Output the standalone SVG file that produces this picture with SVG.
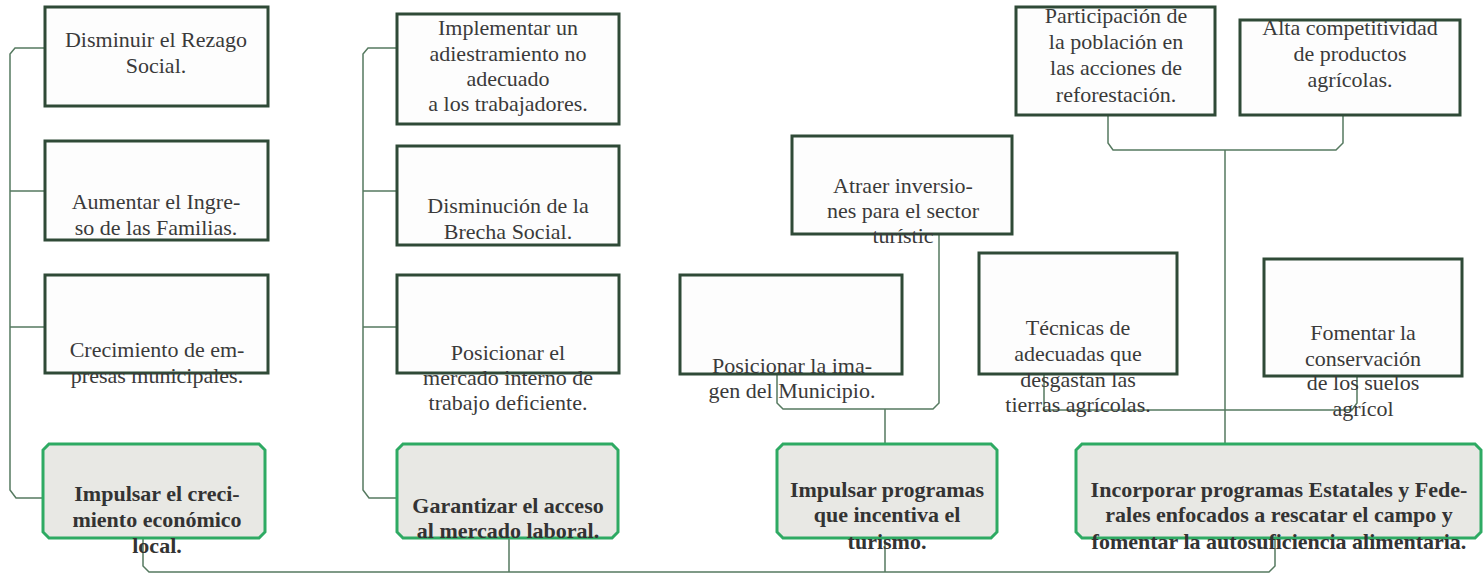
<svg xmlns="http://www.w3.org/2000/svg" width="1483" height="574" viewBox="0 0 1483 574" font-family="'Liberation Serif', 'DejaVu Serif', serif">
<style>
.box{fill:#fdfdfd;stroke:#2f4a37;stroke-width:3}
.gbox{fill:#e8e8e4;stroke:#2eaa63;stroke-width:3}
.c{fill:none;stroke:#567a60;stroke-width:1.5}
text{font-family:'Liberation Serif', 'DejaVu Serif', serif;font-size:22px;fill:#3a3a3a;text-anchor:middle}
.b{font-weight:bold;fill:#333}
</style>
<rect width="1483" height="574" fill="#ffffff"/>
<g id="connectors">
<path class="c" d="M45,48 H15 L10,54 V490 L16,498 H43"/>
<path class="c" d="M10,191 H45 M10,327 H45"/>
<path class="c" d="M397,48 H368 L363,54 V490 L369,498 H397"/>
<path class="c" d="M363,191 H397 M363,327 H397"/>
<path class="c" d="M939,234 V403 L933,409 H783 L777,403 V374 M885,409 V444"/>
<path class="c" d="M1108,115 V143 L1113,150 H1336 L1343,143 V115 M1225,150 V444"/>
<path class="c" d="M1044,374 V410 H1352 L1357,403 V376"/>
<path class="c" d="M143,538 V566 L149,572 H1269 L1275,566 V538 M509,538 V572 M885,538 V572"/>
</g>
<g id="n1"><rect class="box" x="45" y="7" width="223" height="99"/><text x="156" y="47">Disminuir el Rezago</text><text x="156" y="73">Social.</text></g>
<g id="n2"><rect class="box" x="45" y="141" width="223" height="99"/><text x="156" y="209">Aumentar el Ingre-</text><text x="156" y="235">so de las Familias.</text></g>
<g id="n3"><rect class="box" x="45" y="275" width="223" height="98"/><text x="157" y="357">Crecimiento de em-</text><text x="157" y="383">presas municipales.</text></g>
<g id="g1"><path class="gbox" d="M49,444 H259 L265,450 V532 L259,538 H49 L43,532 V450 Z"/><text class="b" x="157" y="501">Impulsar el creci-</text><text class="b" x="157" y="527">miento económico</text><text class="b" x="157" y="553">local.</text></g>
<g id="n4"><rect class="box" x="397" y="14" width="222" height="110"/><text x="508" y="35">Implementar un</text><text x="508" y="61">adiestramiento no</text><text x="508" y="86">adecuado</text><text x="508" y="111">a los trabajadores.</text></g>
<g id="n5"><rect class="box" x="397" y="146" width="222" height="99"/><text x="508" y="213">Disminución de la</text><text x="508" y="239">Brecha Social.</text></g>
<g id="n6"><rect class="box" x="397" y="275" width="222" height="98"/><text x="508" y="360">Posicionar el</text><text x="508" y="385">mercado interno de</text><text x="508" y="410">trabajo deficiente.</text></g>
<g id="g2"><path class="gbox" d="M403,444 H612 L618,450 V532 L612,538 H403 L397,532 V450 Z"/><text class="b" x="508" y="513">Garantizar el acceso</text><text class="b" x="508" y="538">al mercado laboral.</text></g>
<g id="n7"><rect class="box" x="792" y="136" width="220" height="98"/><text x="903" y="193">Atraer inversio-</text><text x="903" y="218">nes para el sector</text><text x="903" y="243">turístic</text></g>
<g id="n8"><rect class="box" x="680" y="275" width="222" height="99"/><text x="792" y="373">Posicionar la ima-</text><text x="792" y="398">gen del Municipio.</text></g>
<g id="g3"><path class="gbox" d="M783,444 H991 L997,450 V532 L991,538 H783 L777,532 V450 Z"/><text class="b" x="887" y="497">Impulsar programas</text><text class="b" x="887" y="522">que incentiva el</text><text class="b" x="887" y="549">turismo.</text></g>
<g id="n9"><rect class="box" x="1016" y="7" width="199" height="108"/><text x="1116" y="23">Participación de</text><text x="1116" y="49">la población en</text><text x="1116" y="75">las acciones de</text><text x="1116" y="102">reforestación.</text></g>
<g id="n10"><rect class="box" x="1240" y="20" width="220" height="95"/><text x="1350" y="35">Alta competitividad</text><text x="1350" y="61">de productos</text><text x="1350" y="87">agrícolas.</text></g>
<g id="n11"><rect class="box" x="979" y="253" width="198" height="121"/><text x="1078" y="335">Técnicas de</text><text x="1078" y="361">adecuadas que</text><text x="1078" y="387">desgastan las</text><text x="1078" y="412">tierras agrícolas.</text></g>
<g id="n12"><rect class="box" x="1264" y="259" width="198" height="117"/><text x="1363" y="340">Fomentar la</text><text x="1363" y="366">conservación</text><text x="1363" y="390">de los suelos</text><text x="1363" y="416">agrícol</text></g>
<g id="g4"><path class="gbox" d="M1082,444 H1475 L1481,450 V532 L1475,538 H1082 L1076,532 V450 Z"/><text class="b" x="1279" y="497">Incorporar programas Estatales y Fede-</text><text class="b" x="1279" y="522">rales enfocados a rescatar el campo y</text><text class="b" x="1279" y="549">fomentar la autosuficiencia alimentaria.</text></g>
</svg>
